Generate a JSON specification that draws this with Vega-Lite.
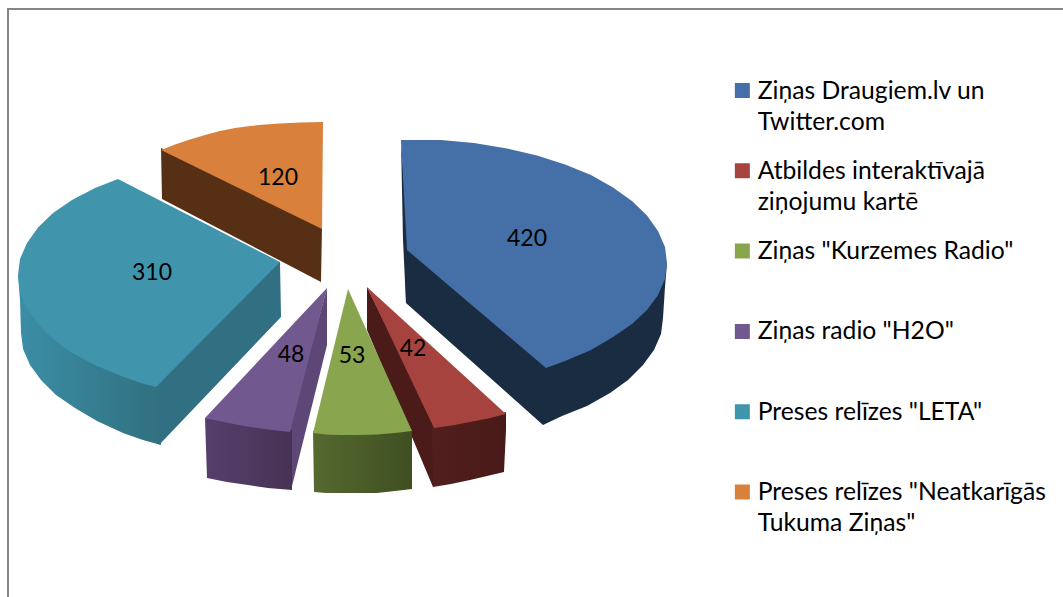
{"$schema":"https://vega.github.io/schema/vega-lite/v6.json","width":1063,"height":597,"padding":0,"autosize":"none","background":"white","view":{"stroke":null},
"config":{"style":{"guide-label":{"lineHeight":31}}},
"datasets":{
"labels":[{"v":"420","x":527,"y":239},{"v":"42","x":413,"y":349},{"v":"53","x":352,"y":356},{"v":"48","x":291,"y":355},{"v":"310","x":152,"y":273},{"v":"120","x":278,"y":178}],
"frame":[{"n":1,"x":8,"y":597},{"n":2,"x":8,"y":9},{"n":3,"x":1063,"y":9}],
"sides":[
{"f":"orange","t":"o","n":1,"x":161,"y":148},{"f":"orange","t":"o","n":2,"x":322,"y":226},{"f":"orange","t":"o","n":3,"x":321,"y":282},{"f":"orange","t":"o","n":4,"x":162,"y":199},
{"f":"tealcut","t":"t","n":1,"x":278,"y":262},{"f":"tealcut","t":"t","n":2,"x":280,"y":262},{"f":"tealcut","t":"t","n":3,"x":281,"y":317},{"f":"tealcut","t":"t","n":4,"x":159,"y":445},{"f":"tealcut","t":"t","n":5,"x":154,"y":387},
{"f":"purplecut","t":"p","n":1,"x":327,"y":288},{"f":"purplecut","t":"p","n":2,"x":327,"y":345},{"f":"purplecut","t":"p","n":3,"x":291,"y":490},{"f":"purplecut","t":"p","n":4,"x":288,"y":432},
{"f":"redcut","t":"r","n":1,"x":367,"y":287},{"f":"redcut","t":"r","n":2,"x":437,"y":428},{"f":"redcut","t":"r","n":3,"x":433,"y":487},{"f":"redcut","t":"r","n":4,"x":367,"y":330},
{"f":"bluecut1","t":"b","n":1,"x":401,"y":140},{"f":"bluecut1","t":"b","n":2,"x":409,"y":250},{"f":"bluecut1","t":"b","n":3,"x":406,"y":303},{"f":"bluecut1","t":"b","n":4,"x":403,"y":240},
{"f":"blueouter","t":"b","n":1,"x":406,"y":303},{"f":"blueouter","t":"b","n":2,"x":543,"y":425},{"f":"blueouter","t":"b","n":3,"x":562,"y":416},{"f":"blueouter","t":"b","n":4,"x":587,"y":406},{"f":"blueouter","t":"b","n":5,"x":610,"y":393},{"f":"blueouter","t":"b","n":6,"x":628,"y":380},{"f":"blueouter","t":"b","n":7,"x":643,"y":365},{"f":"blueouter","t":"b","n":8,"x":654,"y":350},{"f":"blueouter","t":"b","n":9,"x":661,"y":334},{"f":"blueouter","t":"b","n":10,"x":663,"y":318},{"f":"blueouter","t":"b","n":11,"x":665,"y":287},{"f":"blueouter","t":"b","n":12,"x":667,"y":263},{"f":"blueouter","t":"b","n":13,"x":600,"y":300},{"f":"blueouter","t":"b","n":14,"x":405,"y":250}
],
"tealouter":[{"n":1,"x":18,"y":275},{"n":2,"x":20,"y":300},{"n":3,"x":21,"y":333},{"n":4,"x":23,"y":349},{"n":5,"x":30,"y":365},{"n":6,"x":41,"y":380},{"n":7,"x":56,"y":395},{"n":8,"x":75,"y":408},{"n":9,"x":97,"y":421},{"n":10,"x":123,"y":433},{"n":11,"x":143,"y":440},{"n":12,"x":161,"y":445},{"n":13,"x":158,"y":385},{"n":14,"x":100,"y":340}],
"purpleouter":[{"n":1,"x":205,"y":418},{"n":2,"x":226,"y":420},{"n":3,"x":247,"y":424},{"n":4,"x":268,"y":428},{"n":5,"x":292,"y":430},{"n":6,"x":292,"y":490},{"n":7,"x":268,"y":488},{"n":8,"x":248,"y":485},{"n":9,"x":227,"y":482},{"n":10,"x":207,"y":478}],
"greenouter":[{"n":1,"x":313,"y":431},{"n":2,"x":412,"y":429},{"n":3,"x":412,"y":489},{"n":4,"x":395,"y":491},{"n":5,"x":377,"y":493},{"n":6,"x":358,"y":493},{"n":7,"x":340,"y":493},{"n":8,"x":326,"y":493},{"n":9,"x":314,"y":492}],
"redouter":[{"n":1,"x":432,"y":426},{"n":2,"x":452,"y":423},{"n":3,"x":470,"y":420},{"n":4,"x":488,"y":416},{"n":5,"x":506,"y":412},{"n":6,"x":506,"y":430},{"n":7,"x":504,"y":472},{"n":8,"x":487,"y":476},{"n":9,"x":470,"y":480},{"n":10,"x":451,"y":484},{"n":11,"x":433,"y":487}],
"tops":[
{"s":"Ziņas Draugiem.lv un Twitter.com","n":1,"x":401,"y":140},{"s":"Ziņas Draugiem.lv un Twitter.com","n":2,"x":441,"y":140},{"s":"Ziņas Draugiem.lv un Twitter.com","n":3,"x":474,"y":143},{"s":"Ziņas Draugiem.lv un Twitter.com","n":4,"x":507,"y":148.5},{"s":"Ziņas Draugiem.lv un Twitter.com","n":5,"x":537,"y":155.5},{"s":"Ziņas Draugiem.lv un Twitter.com","n":6,"x":565,"y":164.5},{"s":"Ziņas Draugiem.lv un Twitter.com","n":7,"x":591,"y":175},{"s":"Ziņas Draugiem.lv un Twitter.com","n":8,"x":613,"y":187.5},{"s":"Ziņas Draugiem.lv un Twitter.com","n":9,"x":632,"y":201},{"s":"Ziņas Draugiem.lv un Twitter.com","n":10,"x":647,"y":215.5},{"s":"Ziņas Draugiem.lv un Twitter.com","n":11,"x":658,"y":231},{"s":"Ziņas Draugiem.lv un Twitter.com","n":12,"x":665,"y":247},{"s":"Ziņas Draugiem.lv un Twitter.com","n":13,"x":667,"y":263},{"s":"Ziņas Draugiem.lv un Twitter.com","n":14,"x":665,"y":279},{"s":"Ziņas Draugiem.lv un Twitter.com","n":15,"x":658,"y":295},{"s":"Ziņas Draugiem.lv un Twitter.com","n":16,"x":647,"y":310},{"s":"Ziņas Draugiem.lv un Twitter.com","n":17,"x":632,"y":324},{"s":"Ziņas Draugiem.lv un Twitter.com","n":18,"x":613,"y":337},{"s":"Ziņas Draugiem.lv un Twitter.com","n":19,"x":591,"y":350},{"s":"Ziņas Draugiem.lv un Twitter.com","n":20,"x":565,"y":361},{"s":"Ziņas Draugiem.lv un Twitter.com","n":21,"x":546,"y":368},{"s":"Ziņas Draugiem.lv un Twitter.com","n":22,"x":407,"y":250},
{"s":"Atbildes interaktīvajā ziņojumu kartē","n":1,"x":367,"y":287},{"s":"Atbildes interaktīvajā ziņojumu kartē","n":2,"x":506,"y":414},{"s":"Atbildes interaktīvajā ziņojumu kartē","n":3,"x":488,"y":418.5},{"s":"Atbildes interaktīvajā ziņojumu kartē","n":4,"x":470,"y":422},{"s":"Atbildes interaktīvajā ziņojumu kartē","n":5,"x":452,"y":425.5},{"s":"Atbildes interaktīvajā ziņojumu kartē","n":6,"x":434,"y":428},
{"s":"Ziņas \"Kurzemes Radio\"","n":1,"x":348,"y":289},{"s":"Ziņas \"Kurzemes Radio\"","n":2,"x":412,"y":431},{"s":"Ziņas \"Kurzemes Radio\"","n":3,"x":395,"y":433},{"s":"Ziņas \"Kurzemes Radio\"","n":4,"x":377,"y":434.5},{"s":"Ziņas \"Kurzemes Radio\"","n":5,"x":358,"y":435},{"s":"Ziņas \"Kurzemes Radio\"","n":6,"x":340,"y":435},{"s":"Ziņas \"Kurzemes Radio\"","n":7,"x":326,"y":434.5},{"s":"Ziņas \"Kurzemes Radio\"","n":8,"x":313,"y":433},
{"s":"Ziņas radio \"H2O\"","n":1,"x":327,"y":288},{"s":"Ziņas radio \"H2O\"","n":2,"x":290,"y":432},{"s":"Ziņas radio \"H2O\"","n":3,"x":268,"y":429.5},{"s":"Ziņas radio \"H2O\"","n":4,"x":247,"y":426.5},{"s":"Ziņas radio \"H2O\"","n":5,"x":226,"y":422.5},{"s":"Ziņas radio \"H2O\"","n":6,"x":205,"y":418},
{"s":"Preses relīzes \"LETA\"","n":1,"x":280,"y":262},{"s":"Preses relīzes \"LETA\"","n":2,"x":118,"y":179},{"s":"Preses relīzes \"LETA\"","n":3,"x":95,"y":188},{"s":"Preses relīzes \"LETA\"","n":4,"x":72,"y":200},{"s":"Preses relīzes \"LETA\"","n":5,"x":53,"y":213},{"s":"Preses relīzes \"LETA\"","n":6,"x":38,"y":227.5},{"s":"Preses relīzes \"LETA\"","n":7,"x":27,"y":243},{"s":"Preses relīzes \"LETA\"","n":8,"x":20,"y":259},{"s":"Preses relīzes \"LETA\"","n":9,"x":18,"y":275},{"s":"Preses relīzes \"LETA\"","n":10,"x":20,"y":292},{"s":"Preses relīzes \"LETA\"","n":11,"x":27,"y":308},{"s":"Preses relīzes \"LETA\"","n":12,"x":38,"y":324},{"s":"Preses relīzes \"LETA\"","n":13,"x":53,"y":339},{"s":"Preses relīzes \"LETA\"","n":14,"x":72,"y":353},{"s":"Preses relīzes \"LETA\"","n":15,"x":95,"y":365},{"s":"Preses relīzes \"LETA\"","n":16,"x":121,"y":376},{"s":"Preses relīzes \"LETA\"","n":17,"x":141,"y":383},{"s":"Preses relīzes \"LETA\"","n":18,"x":156,"y":387},
{"s":"Preses relīzes \"Neatkarīgās Tukuma Ziņas\"","n":1,"x":161,"y":150},{"s":"Preses relīzes \"Neatkarīgās Tukuma Ziņas\"","n":2,"x":175,"y":144.5},{"s":"Preses relīzes \"Neatkarīgās Tukuma Ziņas\"","n":3,"x":190,"y":139.5},{"s":"Preses relīzes \"Neatkarīgās Tukuma Ziņas\"","n":4,"x":205,"y":135},{"s":"Preses relīzes \"Neatkarīgās Tukuma Ziņas\"","n":5,"x":220,"y":131},{"s":"Preses relīzes \"Neatkarīgās Tukuma Ziņas\"","n":6,"x":235,"y":128},{"s":"Preses relīzes \"Neatkarīgās Tukuma Ziņas\"","n":7,"x":250,"y":126},{"s":"Preses relīzes \"Neatkarīgās Tukuma Ziņas\"","n":8,"x":265,"y":124.5},{"s":"Preses relīzes \"Neatkarīgās Tukuma Ziņas\"","n":9,"x":280,"y":123.5},{"s":"Preses relīzes \"Neatkarīgās Tukuma Ziņas\"","n":10,"x":300,"y":122.5},{"s":"Preses relīzes \"Neatkarīgās Tukuma Ziņas\"","n":11,"x":323,"y":122},{"s":"Preses relīzes \"Neatkarīgās Tukuma Ziņas\"","n":12,"x":322,"y":229}
]},
"encoding":{
"x":{"field":"x","type":"quantitative","scale":{"domain":[0,1063]},"axis":null},
"y":{"field":"y","type":"quantitative","scale":{"domain":[597,0]},"axis":null},
"order":{"field":"n","type":"quantitative"}},
"layer":[
{"data":{"name":"frame"},"mark":{"type":"line","stroke":"#868686","strokeWidth":2,"clip":false}},
{"data":{"name":"sides"},"mark":{"type":"line","strokeWidth":0},"encoding":{"detail":{"field":"f"},"fill":{"field":"t","type":"nominal","scale":{"domain":["o","t","p","r","b"],"range":["#572f15","#316f82","#5c4776","#4a1b18","#1a2c42"]},"legend":null},"stroke":{"value":null}}},
{"data":{"name":"tealouter"},"mark":{"type":"line","strokeWidth":0,"stroke":null,"fill":{"gradient":"linear","x1":0,"y1":0,"x2":1,"y2":0,"stops":[{"offset":0,"color":"#3b8ea6"},{"offset":1,"color":"#31707f"}]}}},
{"data":{"name":"purpleouter"},"mark":{"type":"line","strokeWidth":0,"stroke":null,"fill":{"gradient":"linear","x1":0,"y1":0,"x2":1,"y2":0,"stops":[{"offset":0,"color":"#563f6c"},{"offset":1,"color":"#463354"}]}}},
{"data":{"name":"greenouter"},"mark":{"type":"line","strokeWidth":0,"stroke":null,"fill":{"gradient":"linear","x1":0,"y1":0,"x2":1,"y2":0,"stops":[{"offset":0,"color":"#56692f"},{"offset":1,"color":"#3f4f22"}]}}},
{"data":{"name":"redouter"},"mark":{"type":"line","strokeWidth":0,"stroke":null,"fill":{"gradient":"linear","x1":0,"y1":0,"x2":1,"y2":0,"stops":[{"offset":0,"color":"#521f1e"},{"offset":1,"color":"#481a17"}]}}},
{"data":{"name":"tops"},"mark":{"type":"line","strokeWidth":0},"encoding":{"stroke":{"value":null},"detail":{"field":"s"},"fill":{"field":"s","type":"nominal","scale":{"domain":["Ziņas Draugiem.lv un Twitter.com","Atbildes interaktīvajā ziņojumu kartē","Ziņas \"Kurzemes Radio\"","Ziņas radio \"H2O\"","Preses relīzes \"LETA\"","Preses relīzes \"Neatkarīgās Tukuma Ziņas\""],"range":["#4570a7","#a6433f","#89a54e","#71588f","#4095ad","#d9813c"]},
"legend":{"orient":"none","legendX":730,"legendY":54.5,"title":null,"symbolType":"M-1,0.6L1,0.6L1,2.6L-1,2.6Z","symbolSize":225,"symbolStrokeWidth":0,"clipHeight":48,"rowPadding":0.3,"labelFont":"Lato","labelFontSize":24.7,"labelColor":"#000000","labelLimit":400,"labelOffset":3,"labelBaseline":"top","labelExpr":"datum.label == 'Ziņas Draugiem.lv un Twitter.com' ? ['Ziņas Draugiem.lv un','Twitter.com'] : datum.label == 'Atbildes interaktīvajā ziņojumu kartē' ? ['Atbildes interaktīvajā','ziņojumu kartē'] : indexof(datum.label,'Neatkar')>0 ? ['Preses relīzes \"Neatkarīgās','Tukuma Ziņas\"'] : [datum.label,' ']"}}}},
{"data":{"name":"labels"},"mark":{"type":"text","font":"Lato","fontSize":23,"color":"#000000"},"encoding":{"text":{"field":"v"}}}
],
"resolve":{"scale":{"fill":"independent"}}}
